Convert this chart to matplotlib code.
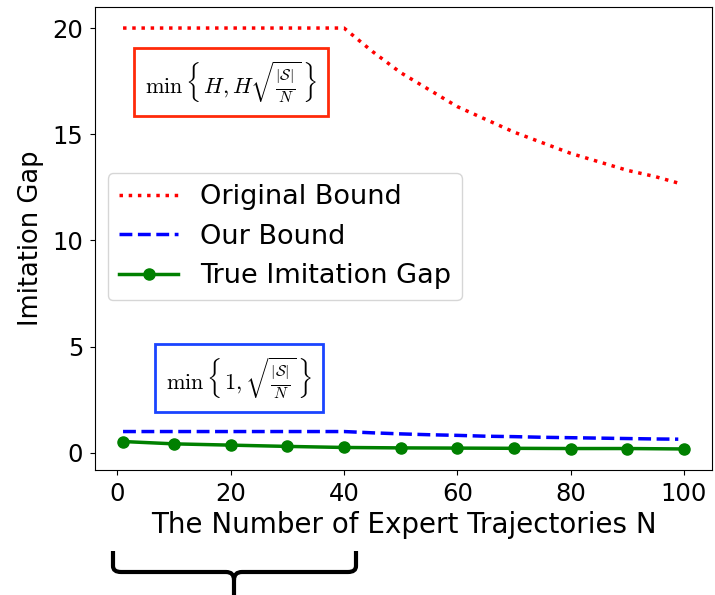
import numpy as np
import matplotlib
matplotlib.use('Agg')
import matplotlib.pyplot as plt
from matplotlib.path import Path
from matplotlib.patches import PathPatch

plt.rcParams['mathtext.fontset'] = 'cm'

# values
n_bound = [1, 10, 20, 30, 40, 45, 50, 55, 60, 65, 70, 75, 80, 85, 90, 95, 99]
original_bound = [20, 20, 20, 20, 20, 18.9, 17.9, 17.1, 16.3, 15.7, 15.1, 14.6, 14.1, 13.7, 13.3, 13.0, 12.7]
our_bound = [1.0, 1.0, 1.0, 1.0, 1.0, 0.94, 0.89, 0.85, 0.82, 0.78, 0.76, 0.73, 0.71, 0.69, 0.67, 0.65, 0.64]
n_true = [1, 10, 20, 30, 40, 50, 60, 70, 80, 90, 100]
true_gap = [0.53, 0.42, 0.36, 0.30, 0.25, 0.23, 0.22, 0.21, 0.20, 0.20, 0.18]

fig = plt.figure(figsize=(7.15, 5.95), dpi=100)
ax = fig.add_axes([95/715, 1-470/595, 617/715, 463/595])

ax.plot(n_bound, original_bound, ':', color='red', lw=2.5, label='Original Bound')
ax.plot(n_bound, our_bound, '--', color='blue', lw=2.5, label='Our Bound')
ax.plot(n_true, true_gap, '-o', color='green', lw=2.5, ms=8, label='True Imitation Gap')

ax.set_xlabel('The Number of Expert Trajectories N', fontsize=20, labelpad=4)
ax.set_ylabel('Imitation Gap', fontsize=18.5, labelpad=6)
ax.tick_params(labelsize=17.5, pad=5)
ax.set_yticks([0, 5, 10, 15, 20])

ax.legend(loc='upper left', bbox_to_anchor=(0.021, 0.641), borderaxespad=0,
          fontsize=19.5, handlelength=2.2)

ax.text(0.22, 0.838, r'$\min\,\left\{\,H, H\sqrt{\frac{|\mathcal{S}|}{N}}\,\right\}$',
        transform=ax.transAxes, ha='center', va='center', fontsize=16,
        bbox=dict(boxstyle='square,pad=0.5', fc='white', ec='#ff2a0a', lw=2))
ax.text(0.233, 0.199, r'$\min\,\left\{\,1, \sqrt{\frac{|\mathcal{S}|}{N}}\,\right\}$',
        transform=ax.transAxes, ha='center', va='center', fontsize=16,
        bbox=dict(boxstyle='square,pad=0.5', fc='white', ec='#1a44ff', lw=2))

# curly brace under the axis
W, H = 715.0, 595.0
def p(x, y):
    return (x / W, 1 - y / H)
verts = [p(113, 551), p(113, 566), p(113, 572), p(121, 572),
         p(226, 572), p(234, 572), p(234, 580), p(234, 600)]
codes = [Path.MOVETO, Path.LINETO, Path.CURVE3, Path.CURVE3,
         Path.LINETO, Path.CURVE3, Path.CURVE3, Path.LINETO]
verts2 = [p(356, 551), p(356, 566), p(356, 572), p(348, 572),
          p(242, 572), p(234, 572), p(234, 580)]
codes2 = [Path.MOVETO, Path.LINETO, Path.CURVE3, Path.CURVE3,
          Path.LINETO, Path.CURVE3, Path.CURVE3]
for v, c in [(verts, codes), (verts2, codes2)]:
    fig.add_artist(PathPatch(Path(v, c), fill=False, lw=3, color='black',
                             transform=fig.transFigure, clip_on=False))

fig.savefig('out.png', dpi=100)
